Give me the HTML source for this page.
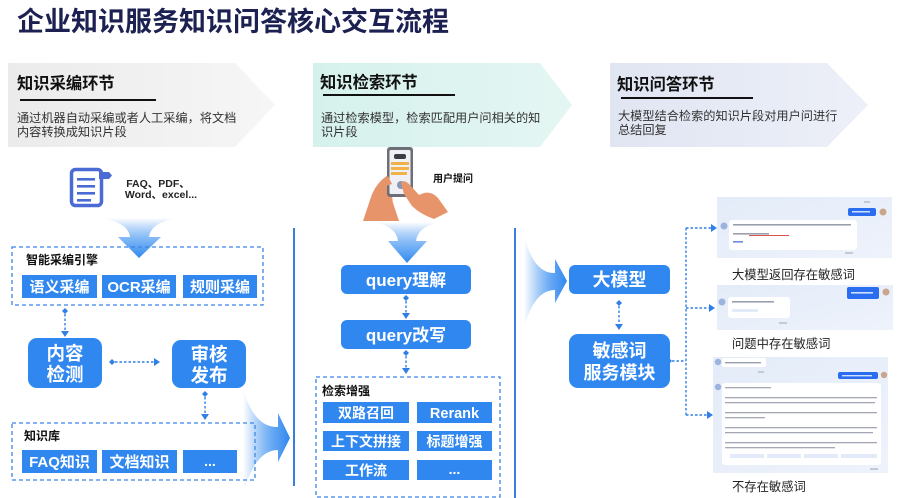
<!DOCTYPE html>
<html><head><meta charset="utf-8">
<style>
html,body{margin:0;padding:0;background:#fff;}
svg{display:block;}
text{font-family:"Liberation Sans","Noto Sans CJK SC",sans-serif;}
.b{font-weight:bold;}
</style></head>
<body>
<svg width="898" height="498" viewBox="0 0 898 498" xmlns="http://www.w3.org/2000/svg">
<defs>
  <linearGradient id="g1" x1="0" x2="1" y1="0" y2="0"><stop offset="0" stop-color="#ebebeb"/><stop offset="1" stop-color="#f6f6f6"/></linearGradient>
  <linearGradient id="g2" x1="0" x2="1" y1="0" y2="0"><stop offset="0" stop-color="#d6f1ec"/><stop offset="1" stop-color="#e4f6f3"/></linearGradient>
  <linearGradient id="g3" x1="0" x2="1" y1="0" y2="0"><stop offset="0" stop-color="#e0e5f2"/><stop offset="1" stop-color="#edf0f8"/></linearGradient>
  <linearGradient id="fv" x1="0" x2="0" y1="0" y2="1"><stop offset="0" stop-color="#2f87ef" stop-opacity="0"/><stop offset="0.55" stop-color="#5aa2f3" stop-opacity="0.8"/><stop offset="1" stop-color="#2f87ef"/></linearGradient>
  <linearGradient id="fh" x1="0" x2="1" y1="0" y2="0"><stop offset="0" stop-color="#2f87ef" stop-opacity="0"/><stop offset="0.6" stop-color="#4f9bf2" stop-opacity="0.85"/><stop offset="1" stop-color="#2f87ef"/></linearGradient>
  <linearGradient id="sc" x1="0" x2="1" y1="0" y2="1"><stop offset="0" stop-color="#e4ecf9"/><stop offset="1" stop-color="#eef2fb"/></linearGradient>
</defs>

<!-- Title -->
<text x="17" y="31" font-size="27" class="b" fill="#1c2152">企业知识服务知识问答核心交互流程</text>

<!-- Banners -->
<polygon points="8,63 235,63 275,105 235,147 8,147" fill="url(#g1)"/>
<polygon points="313,63 540,63 572,105 540,147 313,147" fill="url(#g2)"/>
<polygon points="610,63 827,63 868,105 827,147 610,147" fill="url(#g3)"/>

<text x="17" y="89" font-size="16.3" class="b" fill="#111">知识采编环节</text>
<rect x="20" y="99" width="136" height="2" fill="#111"/>
<text x="17" y="122" font-size="12.2" fill="#333">通过机器自动采编或者人工采编，将文档</text>
<text x="17" y="136" font-size="12.2" fill="#333">内容转换成知识片段</text>

<text x="320" y="88" font-size="16.3" class="b" fill="#111">知识检索环节</text>
<rect x="323" y="94" width="132" height="2" fill="#111"/>
<text x="321" y="122" font-size="12.2" fill="#333">通过检索模型，检索匹配用户问相关的知</text>
<text x="321" y="136" font-size="12.2" fill="#333">识片段</text>

<text x="617" y="90" font-size="16.3" class="b" fill="#111">知识问答环节</text>
<rect x="621" y="97" width="132" height="2" fill="#111"/>
<text x="618" y="120" font-size="12.2" fill="#333">大模型结合检索的知识片段对用户问进行</text>
<text x="618" y="134" font-size="12.2" fill="#333">总结回复</text>

<!-- Column 1 -->
<!-- doc icon -->
<rect x="71.5" y="169.5" width="30" height="36" rx="4" fill="#fff" stroke="#4a6bd6" stroke-width="3.5"/>
<rect x="77" y="178" width="18" height="2.6" fill="#4a6bd6"/>
<rect x="77" y="185" width="18" height="2.6" fill="#4a6bd6"/>
<rect x="77" y="192" width="18" height="2.6" fill="#4a6bd6"/>
<rect x="77" y="199" width="14" height="2.6" fill="#4a6bd6"/>
<path d="M99 172 L109 172 L112 175.5 L109 179 L99 179 Z" fill="#4a6bd6"/>
<text x="158" y="187" font-size="10.5" class="b" fill="#222" text-anchor="middle">FAQ、PDF、</text>
<text x="161" y="198" font-size="10.5" class="b" fill="#222" text-anchor="middle">Word、excel...</text>
<!-- funnel 1 -->
<path d="M100 218 Q128 222 130 237 L118 237 L139 258 L161 237 L149 237 Q151 222 178 218 Z" fill="url(#fv)"/>

<rect x="12" y="247" width="251" height="58" fill="none" stroke="#3a85e6" stroke-width="1.3" stroke-dasharray="4 3"/>
<text x="26" y="264" font-size="12" class="b" fill="#111">智能采编引擎</text>
<rect x="22" y="275" width="75" height="23" fill="#2f87ef"/>
<rect x="102" y="275" width="74" height="23" fill="#2f87ef"/>
<rect x="183" y="275" width="74" height="23" fill="#2f87ef"/>
<text x="59.5" y="292" font-size="15" class="b" fill="#fff" text-anchor="middle">语义采编</text>
<text x="139" y="292" font-size="15" class="b" fill="#fff" text-anchor="middle">OCR采编</text>
<text x="220" y="292" font-size="15" class="b" fill="#fff" text-anchor="middle">规则采编</text>

<rect x="28" y="338" width="74" height="50" rx="9" fill="#2f87ef"/>
<text x="65" y="360" font-size="18.5" class="b" fill="#fff" text-anchor="middle">内容</text>
<text x="65" y="381" font-size="18.5" class="b" fill="#fff" text-anchor="middle">检测</text>
<rect x="172" y="340" width="74" height="48" rx="9" fill="#2f87ef"/>
<text x="209" y="361" font-size="18.5" class="b" fill="#fff" text-anchor="middle">审核</text>
<text x="209" y="382" font-size="18.5" class="b" fill="#fff" text-anchor="middle">发布</text>

<rect x="12" y="423" width="243" height="57" fill="none" stroke="#3a85e6" stroke-width="1.3" stroke-dasharray="4 3"/>
<text x="24" y="440" font-size="12" class="b" fill="#111">知识库</text>
<rect x="22" y="450" width="75" height="23" fill="#2f87ef"/>
<rect x="102" y="450" width="75" height="23" fill="#2f87ef"/>
<rect x="183" y="450" width="54" height="23" fill="#2f87ef"/>
<text x="59.5" y="467" font-size="15" class="b" fill="#fff" text-anchor="middle">FAQ知识</text>
<text x="139.5" y="467" font-size="15" class="b" fill="#fff" text-anchor="middle">文档知识</text>
<text x="210" y="466" font-size="14" class="b" fill="#fff" text-anchor="middle">...</text>

<!-- connectors col1 -->
<g fill="#2f7fe6" stroke="none">
  <path d="M65 308 L68 311 L65 314 L62 311 Z"/>
  <path d="M61 331 L69 331 L65 337 Z"/>
  <path d="M112 359 L115 362 L112 365 L109 362 Z"/>
  <path d="M154 358 L160 362 L154 366 Z"/>
  <path d="M205 391 L208 394 L205 397 L202 394 Z"/>
  <path d="M201 414 L209 414 L205 420 Z"/>
</g>
<g stroke="#2f7fe6" stroke-width="1.4" stroke-dasharray="2.5 2" fill="none">
  <line x1="65" y1="314" x2="65" y2="331"/>
  <line x1="115" y1="362" x2="154" y2="362"/>
  <line x1="205" y1="397" x2="205" y2="414"/>
</g>

<!-- curved arrow 1 -->
<path d="M243 388 Q254 428 278 427 L278 413 L290 438 L278 462 L278 450 Q256 450 244 490 Z" fill="url(#fh)"/>

<!-- separators -->
<rect x="293" y="228" width="2" height="258" fill="#3a7fe0"/>
<rect x="514" y="228" width="2" height="270" fill="#3a7fe0"/>

<!-- Column 2 -->
<!-- hands & phone -->
<path d="M363 221 L370 200 Q374 186 384 178 L392 172 L395 186 Q390 196 394 206 L399 221 Z" fill="#e8946a"/>
<rect x="387" y="147" width="26" height="50" rx="3" fill="#6c6f78"/>
<rect x="389.5" y="150" width="21" height="44" rx="1.5" fill="#eef0f5"/>
<rect x="394" y="154" width="12" height="5" rx="2" fill="#3a3d48"/>
<rect x="391" y="162" width="18" height="3" fill="#f1b24a"/>
<rect x="391" y="167" width="18" height="3" fill="#f1b24a"/>
<rect x="391" y="172" width="16" height="3" fill="#f1b24a"/>
<circle cx="401" cy="185" r="4" fill="#8a96b0"/>
<path d="M388 176 Q384 180 386 186 L392 184 Z" fill="#e8946a"/>
<path d="M401 183 Q404 179 409 184 L419 195 Q430 189 438 198 L448 212 L434 219 Q420 214 412 206 L404 194 Z" fill="#e8946a"/>
<text x="433" y="182" font-size="10" class="b" fill="#111">用户提问</text>
<!-- funnel 2 -->
<path d="M373 222 Q396 226 398 241 L388 241 L407 263 L427 241 L416 241 Q418 226 441 222 Z" fill="url(#fv)"/>

<rect x="341" y="265" width="130" height="29" rx="6" fill="#2f87ef"/>
<text x="406" y="286" font-size="17" class="b" fill="#fff" text-anchor="middle">query理解</text>
<rect x="341" y="320" width="130" height="29" rx="6" fill="#2f87ef"/>
<text x="406" y="341" font-size="17" class="b" fill="#fff" text-anchor="middle">query改写</text>

<g fill="#2f7fe6">
  <path d="M406 295 L409 298 L406 301 L403 298 Z"/>
  <path d="M402 313 L410 313 L406 319 Z"/>
  <path d="M406 350 L409 353 L406 356 L403 353 Z"/>
  <path d="M402 368 L410 368 L406 374 Z"/>
  <path d="M619 300 L622 303 L619 306 L616 303 Z"/>
  <path d="M615 324 L623 324 L619 330 Z"/>
  <path d="M669 358 L672 361 L669 364 L666 361 Z"/>
  <path d="M711 224 L717 228 L711 232 Z"/>
  <path d="M709 304 L715 308 L709 312 Z"/>
  <path d="M707 411 L713 415 L707 419 Z"/>
</g>
<g stroke="#2f7fe6" stroke-width="1.4" stroke-dasharray="2.5 2" fill="none">
  <line x1="406" y1="301" x2="406" y2="313"/>
  <line x1="406" y1="356" x2="406" y2="368"/>
  <line x1="619" y1="306" x2="619" y2="324"/>
  <polyline points="672,361 686,361"/>
  <line x1="686" y1="228" x2="686" y2="415"/>
  <line x1="686" y1="228" x2="711" y2="228"/>
  <line x1="686" y1="308" x2="709" y2="308"/>
  <line x1="686" y1="415" x2="707" y2="415"/>
</g>

<rect x="316" y="377" width="184" height="120" fill="none" stroke="#3a85e6" stroke-width="1.3" stroke-dasharray="4 3"/>
<text x="322" y="395" font-size="12" class="b" fill="#111">检索增强</text>
<rect x="323" y="402" width="86" height="21" fill="#2f87ef"/>
<rect x="417" y="402" width="75" height="21" fill="#2f87ef"/>
<rect x="323" y="431" width="86" height="20" fill="#2f87ef"/>
<rect x="417" y="431" width="75" height="20" fill="#2f87ef"/>
<rect x="323" y="460" width="86" height="20" fill="#2f87ef"/>
<rect x="417" y="460" width="75" height="20" fill="#2f87ef"/>
<text x="366" y="418" font-size="14" class="b" fill="#fff" text-anchor="middle">双路召回</text>
<text x="454.5" y="418" font-size="14.5" class="b" fill="#fff" text-anchor="middle">Rerank</text>
<text x="366" y="446.5" font-size="14" class="b" fill="#fff" text-anchor="middle">上下文拼接</text>
<text x="454.5" y="446.5" font-size="14" class="b" fill="#fff" text-anchor="middle">标题增强</text>
<text x="366" y="475.5" font-size="14" class="b" fill="#fff" text-anchor="middle">工作流</text>
<text x="454.5" y="474" font-size="14" class="b" fill="#fff" text-anchor="middle">...</text>

<!-- curved arrow 2 -->
<path d="M524 236 Q534 274 555 273 L555 259 L567 281 L555 303 L555 290 Q534 290 524 328 Z" fill="url(#fh)"/>

<!-- Column 3 -->
<rect x="569" y="265" width="101" height="29" rx="6" fill="#2f87ef"/>
<text x="619.5" y="286" font-size="18" class="b" fill="#fff" text-anchor="middle">大模型</text>
<rect x="569" y="334" width="101" height="54" rx="9" fill="#2f87ef"/>
<text x="619.5" y="357" font-size="18" class="b" fill="#fff" text-anchor="middle">敏感词</text>
<text x="619.5" y="379" font-size="18" class="b" fill="#fff" text-anchor="middle">服务模块</text>

<!-- Screenshot 1 -->
<rect x="717" y="197" width="175" height="61" fill="url(#sc)"/>
<rect x="848" y="208" width="28" height="8" rx="2" fill="#2a6df0"/>
<rect x="852" y="211" width="18" height="1.5" fill="#cfe0ff"/>
<circle cx="883" cy="212" r="3.5" fill="#c9a58c"/>
<rect x="864" y="201" width="6" height="2" fill="#c4c9d4"/>
<circle cx="724" cy="226" r="3.5" fill="#9bb4dd"/>
<rect x="729" y="220" width="128" height="30" rx="3" fill="#fff"/>
<rect x="733" y="224" width="118" height="1.6" fill="#9aa0ad"/>
<rect x="733" y="233" width="36" height="1.6" fill="#9aa0ad"/>
<rect x="749" y="235" width="40" height="1" fill="#d9534f"/>
<rect x="733" y="241" width="10" height="1.6" fill="#6b8ee0"/>
<rect x="845" y="252" width="8" height="2" fill="#c4c9d4"/>
<text x="732" y="279" font-size="12.3" fill="#222">大模型返回存在敏感词</text>

<!-- Screenshot 2 -->
<rect x="717" y="285" width="176" height="45" fill="url(#sc)"/>
<rect x="847" y="287" width="32" height="12" rx="2" fill="#2a6df0"/>
<rect x="851" y="292" width="22" height="1.6" fill="#cfe0ff"/>
<circle cx="886" cy="292" r="3.5" fill="#c9a58c"/>
<circle cx="722" cy="302" r="3.5" fill="#9bb4dd"/>
<rect x="728" y="297" width="62" height="21" rx="3" fill="#fff"/>
<rect x="732" y="301" width="42" height="1.6" fill="#9aa0ad"/>
<rect x="732" y="309" width="26" height="3" rx="1" fill="#e3ebfb"/>
<rect x="779" y="322" width="8" height="2" fill="#c4c9d4"/>
<text x="732" y="348" font-size="12.3" fill="#222">问题中存在敏感词</text>

<!-- Screenshot 3 -->
<rect x="713" y="357" width="175" height="116" fill="url(#sc)"/>
<circle cx="718" cy="362" r="3.2" fill="#9bb4dd"/>
<rect x="722" y="358" width="44" height="9" rx="2" fill="#fff"/>
<rect x="725" y="362" width="36" height="1.4" fill="#9aa0ad"/>
<rect x="758" y="371" width="6" height="2" fill="#c4c9d4"/>
<rect x="838" y="372" width="40" height="7" rx="2" fill="#2a6df0"/>
<rect x="842" y="375" width="30" height="1.4" fill="#cfe0ff"/>
<circle cx="884" cy="375" r="3.2" fill="#c9a58c"/>
<circle cx="718" cy="387" r="3.2" fill="#9bb4dd"/>
<rect x="722" y="383" width="159" height="82" rx="3" fill="#fff"/>
<g fill="#a3a8b4">
  <rect x="725" y="387" width="46" height="1.3"/>
  <rect x="725" y="397" width="152" height="1.3"/>
  <rect x="725" y="402" width="150" height="1.3"/>
  <rect x="725" y="412" width="152" height="1.3"/>
  <rect x="725" y="417" width="40" height="1.3"/>
  <rect x="725" y="427" width="152" height="1.3"/>
  <rect x="725" y="432" width="148" height="1.3"/>
  <rect x="725" y="442" width="152" height="1.3"/>
  <rect x="725" y="447" width="110" height="1.3"/>
</g>
<g fill="#e3ebfb">
  <rect x="730" y="454" width="34" height="4"/>
  <rect x="767" y="454" width="34" height="4"/>
  <rect x="804" y="454" width="34" height="4"/>
  <rect x="841" y="454" width="36" height="4"/>
</g>
<rect x="870" y="468" width="8" height="2" fill="#c4c9d4"/>
<text x="732" y="491" font-size="12.3" fill="#222">不存在敏感词</text>
</svg>
</body></html>
